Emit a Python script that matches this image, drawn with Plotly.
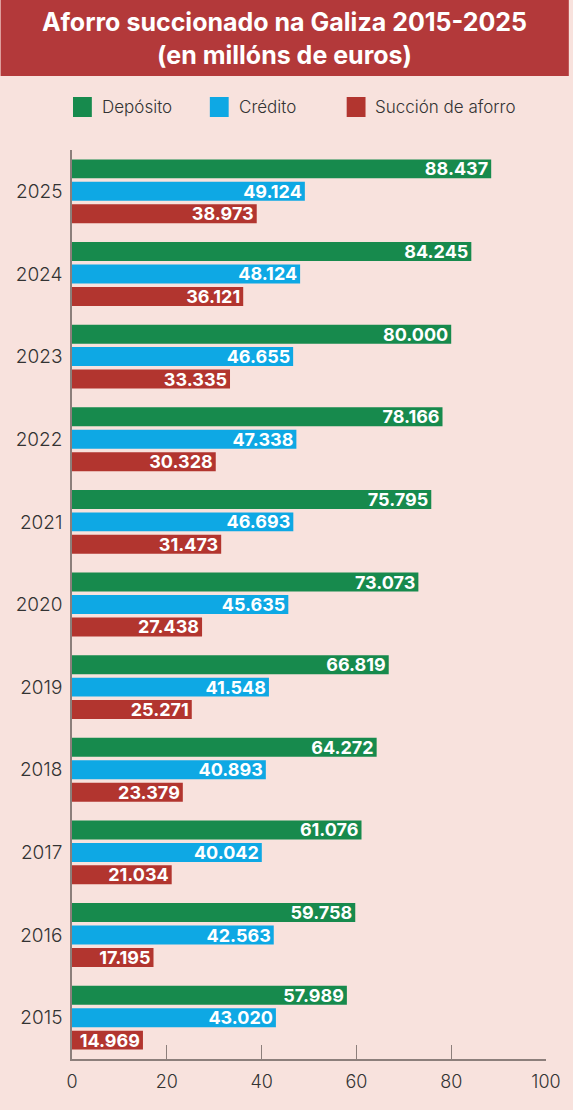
import plotly.graph_objects as go

years = ["2015", "2016", "2017", "2018", "2019", "2020", "2021", "2022", "2023", "2024", "2025"]
deposito = [57.989, 59.758, 61.076, 64.272, 66.819, 73.073, 75.795, 78.166, 80.000, 84.245, 88.437]
credito = [43.020, 42.563, 40.042, 40.893, 41.548, 45.635, 46.693, 47.338, 46.655, 48.124, 49.124]
succion = [14.969, 17.195, 21.034, 23.379, 25.271, 27.438, 31.473, 30.328, 33.335, 36.121, 38.973]

GREEN = "#178a4d"
BLUE = "#0ea8e4"
RED = "#b2352f"
BG = "#f8e2dd"
BANNER = "#b3393a"
AXIS = "#8c7f7b"
FONT = "Inter"

W, H = 573, 1110
ML, MR, MT, MB = 72, 23, 150, 51
PW, PH = W - ML - MR, H - MT - MB


def px2paper_x(px):
    return (px - ML) / PW


def px2paper_y(py):
    return 1 - (py - MT) / PH


def makeBar(name, values, color):
    return go.Bar(
        y=years, x=values, name=name, orientation="h",
        marker_color=color, marker_line_width=0,
        text=[f"{v:.3f}" for v in values],
        textposition="inside", insidetextanchor="end",
        textfont=dict(family=FONT, size=18, color="white", weight=700),
        constraintext="none", showlegend=False, hoverinfo="skip",
    )


fig = go.Figure()
# added bottom-to-top so Depósito ends up on top of each group
fig.add_trace(makeBar("Succión de aforro", succion, RED))
fig.add_trace(makeBar("Crédito", credito, BLUE))
fig.add_trace(makeBar("Depósito", deposito, GREEN))

# title banner
fig.add_shape(type="rect", xref="paper", yref="paper",
              x0=px2paper_x(0), x1=px2paper_x(W), y0=px2paper_y(76), y1=px2paper_y(0),
              fillcolor=BANNER, line_width=0, layer="below")
fig.add_annotation(xref="paper", yref="paper", x=px2paper_x(W / 2), y=px2paper_y(39),
                   text="Aforro succionado na Galiza 2015-2025<br>(en millóns de euros)",
                   showarrow=False, align="center", xanchor="center", yanchor="middle",
                   font=dict(family=FONT, size=25, color="white", weight=700))

# legend drawn by hand
legend = [("Depósito", GREEN, 73), ("Crédito", BLUE, 211), ("Succión de aforro", RED, 349)]
for label, color, lx in legend:
    fig.add_shape(type="rect", xref="paper", yref="paper",
                  x0=px2paper_x(lx), x1=px2paper_x(lx + 19),
                  y0=px2paper_y(117), y1=px2paper_y(97),
                  fillcolor=color, line_width=0)
    fig.add_annotation(xref="paper", yref="paper", x=px2paper_x(lx + 27), y=px2paper_y(107),
                       text=label, showarrow=False, xanchor="left", yanchor="middle",
                       font=dict(family=FONT, size=17, color="#333333", weight=300))

fig.update_layout(
    width=W, height=H,
    margin=dict(l=ML, r=MR, t=MT, b=MB),
    paper_bgcolor=BG, plot_bgcolor=BG,
    barmode="group", bargap=0.185, bargroupgap=0.155,
    font=dict(family=FONT, color="#333333"),
    xaxis=dict(range=[0, 100], tickvals=[0, 20, 40, 60, 80, 100], showgrid=False, zeroline=False,
               showline=True, linecolor=AXIS, linewidth=1.5, ticks="inside", ticklen=14,
               tickcolor=AXIS, tickwidth=1, ticklabelstandoff=6,
               tickfont=dict(size=18, color="#333333", weight=300), fixedrange=True),
    yaxis=dict(type="category", categoryorder="array", categoryarray=years, range=[-0.5, 10.5],
               showgrid=False, zeroline=False, showline=True, linecolor=AXIS, linewidth=1.5,
               ticks="", ticklabelstandoff=4, tickfont=dict(size=19, color="#333333", weight=300),
               fixedrange=True),
)

fig.write_html("out.html", config={"displayModeBar": False},
               post_script="document.body.style.margin='0';")
